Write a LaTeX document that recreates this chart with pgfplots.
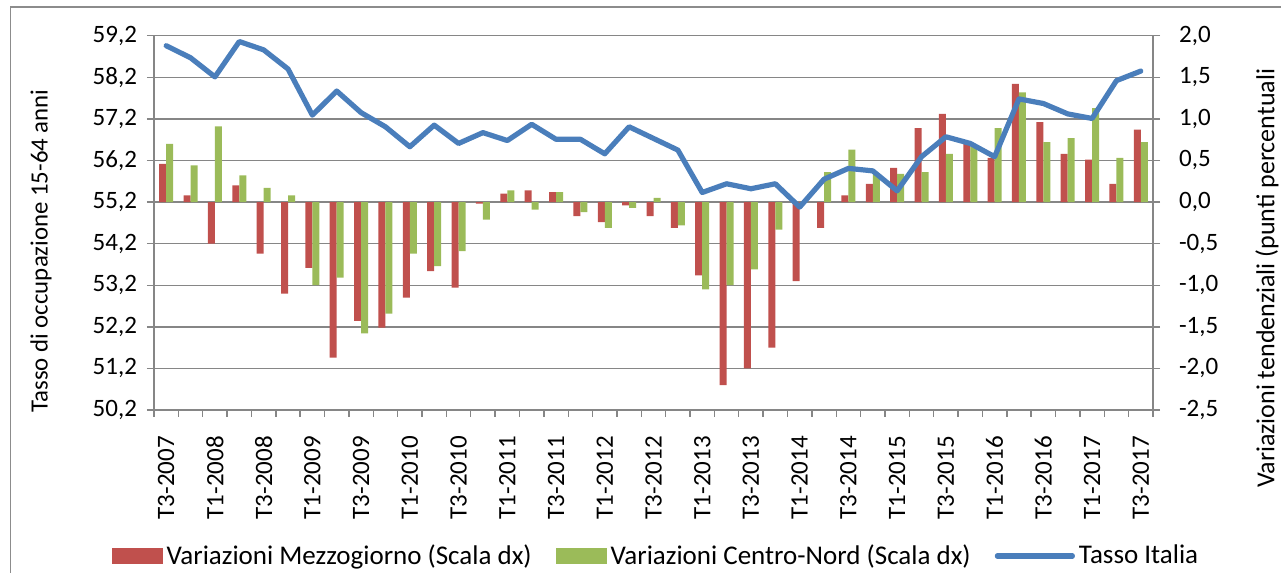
\documentclass[border=0pt]{standalone}
\usepackage{pgfplots}
\pgfplotsset{compat=1.18}
\usepackage{fontspec}
\setmainfont{Carlito}
\definecolor{mzred}{HTML}{C0504D}
\definecolor{cngreen}{HTML}{9BBB59}
\definecolor{itblue}{HTML}{4A7EBB}
\definecolor{gridgray}{RGB}{134,134,134}
\definecolor{framegray}{RGB}{140,140,140}

\pgfplotsset{numfmt/.style={yticklabel style={font=\fontsize{12.5}{14}\selectfont,
  /pgf/number format/fixed, /pgf/number format/fixed zerofill,
  /pgf/number format/precision=1, /pgf/number format/use comma,
  /pgf/number format/assume math mode=true}}}

\begin{document}
\begin{tikzpicture}
\draw[framegray, line width=0.7pt] (5.3pt,-20pt) rectangle (700pt,283pt);

% bars, right scale
\begin{axis}[
  at={(77pt,81.5pt)}, anchor=south west,
  scale only axis, width=499.5pt, height=187.15pt,
  xmin=-0.5, xmax=40.5, ymin=-2.5, ymax=2.0,
  axis y line*=right, axis x line*=bottom,
  axis line style={gridgray, line width=0.7pt},
  ytick={-2.5,-2,-1.5,-1,-0.5,0,0.5,1,1.5,2},
  numfmt, yticklabel style={xshift=6pt},
  ymajorgrids, grid style={gridgray, line width=0.7pt},
  tick align=outside, major tick length=3.5pt, minor tick length=3.5pt,
  tick style={gridgray, line width=0.7pt},
  xtick={0,2,...,40},
  xticklabels={T3-2007,T1-2008,T3-2008,T1-2009,T3-2009,T1-2010,T3-2010,T1-2011,T3-2011,T1-2012,T3-2012,T1-2013,T3-2013,T1-2014,T3-2014,T1-2015,T3-2015,T1-2016,T3-2016,T1-2017,T3-2017},
  major x tick style={draw=none},
  minor xtick={-0.5,0.5,...,40.5},
  xticklabel style={rotate=90, anchor=east, xshift=-6pt, font=\fontsize{12.5}{14}\selectfont},
  ylabel={Variazioni tendenziali (punti percentuali},
  ylabel style={at={(axis description cs:1.114,0.352)}, anchor=center, font=\fontsize{13}{15}\selectfont},
  ybar=0pt, bar width=3.5pt,
]
\addplot[fill=mzred, draw=none] coordinates {
(0,0.46) (1,0.08) (2,-0.50) (3,0.20) (4,-0.62) (5,-1.10) (6,-0.79) (7,-1.87) (8,-1.43) (9,-1.51)
(10,-1.15) (11,-0.83) (12,-1.03) (13,-0.02) (14,0.10) (15,0.14) (16,0.12) (17,-0.17) (18,-0.24) (19,-0.04)
(20,-0.17) (21,-0.31) (22,-0.88) (23,-2.20) (24,-2.00) (25,-1.75) (26,-0.95) (27,-0.31) (28,0.08) (29,0.22)
(30,0.41) (31,0.89) (32,1.06) (33,0.70) (34,0.53) (35,1.42) (36,0.96) (37,0.58) (38,0.51) (39,0.22) (40,0.87)};
\addplot[fill=cngreen, draw=none] coordinates {
(0,0.70) (1,0.44) (2,0.91) (3,0.32) (4,0.17) (5,0.08) (6,-1.00) (7,-0.91) (8,-1.58) (9,-1.34)
(10,-0.62) (11,-0.77) (12,-0.59) (13,-0.21) (14,0.14) (15,-0.09) (16,0.12) (17,-0.12) (18,-0.31) (19,-0.07)
(20,0.05) (21,-0.28) (22,-1.05) (23,-1.00) (24,-0.81) (25,-0.33) (26,0.00) (27,0.36) (28,0.63) (29,0.34)
(30,0.34) (31,0.36) (32,0.58) (33,0.67) (34,0.89) (35,1.32) (36,0.72) (37,0.77) (38,1.13) (39,0.53) (40,0.72)};
\end{axis}

% line, left scale
\begin{axis}[
  at={(77pt,81.5pt)}, anchor=south west,
  scale only axis, width=499.5pt, height=187.15pt,
  xmin=-0.5, xmax=40.5, ymin=50.2, ymax=59.2,
  axis y line*=left, axis x line=none,
  axis line style={gridgray, line width=0.7pt},
  ytick={50.2,51.2,52.2,53.2,54.2,55.2,56.2,57.2,58.2,59.2},
  numfmt, yticklabel style={xshift=-1.5pt},
  tick align=outside, major tick length=3.5pt,
  tick style={gridgray, line width=0.7pt},
  ylabel={Tasso di occupazione 15-64 anni},
  ylabel style={at={(axis description cs:-0.113,0.425)}, anchor=center, font=\fontsize{12.4}{14}\selectfont},
  legend style={at={(axis description cs:0.5035,-0.39)}, anchor=center, draw=none, fill=none,
    legend columns=3, font=\fontsize{13.5}{15}\selectfont,
    /tikz/every even column/.append style={column sep=10pt}},
]
\addlegendimage{legend image code/.code={\fill[mzred] (0pt,-3.75pt) rectangle (25pt,3.75pt);}}
\addlegendentry{Variazioni Mezzogiorno (Scala dx)}
\addlegendimage{legend image code/.code={\fill[cngreen] (0pt,-3.75pt) rectangle (25pt,3.75pt);}}
\addlegendentry{Variazioni Centro-Nord (Scala dx)}
\addplot[itblue, line width=2.6pt, line join=round, line cap=round, mark=none,
  legend image code/.code={\draw[itblue, line width=2.6pt] (0pt,0pt) -- (37.5pt,0pt);}] coordinates {
(0,58.96) (1,58.67) (2,58.21) (3,59.06) (4,58.86) (5,58.40) (6,57.29) (7,57.87) (8,57.35) (9,57.01)
(10,56.53) (11,57.05) (12,56.61) (13,56.87) (14,56.68) (15,57.07) (16,56.71) (17,56.71) (18,56.36) (19,57.01)
(20,56.73) (21,56.45) (22,55.43) (23,55.64) (24,55.52) (25,55.64) (26,55.08) (27,55.75) (28,56.01) (29,55.95)
(30,55.47) (31,56.29) (32,56.77) (33,56.61) (34,56.29) (35,57.68) (36,57.57) (37,57.32) (38,57.21) (39,58.12) (40,58.35)};
\addlegendentry{Tasso Italia}
\end{axis}

\pgfresetboundingbox
\useasboundingbox (0,0) rectangle (640.5pt,286.5pt);
\end{tikzpicture}
\end{document}
